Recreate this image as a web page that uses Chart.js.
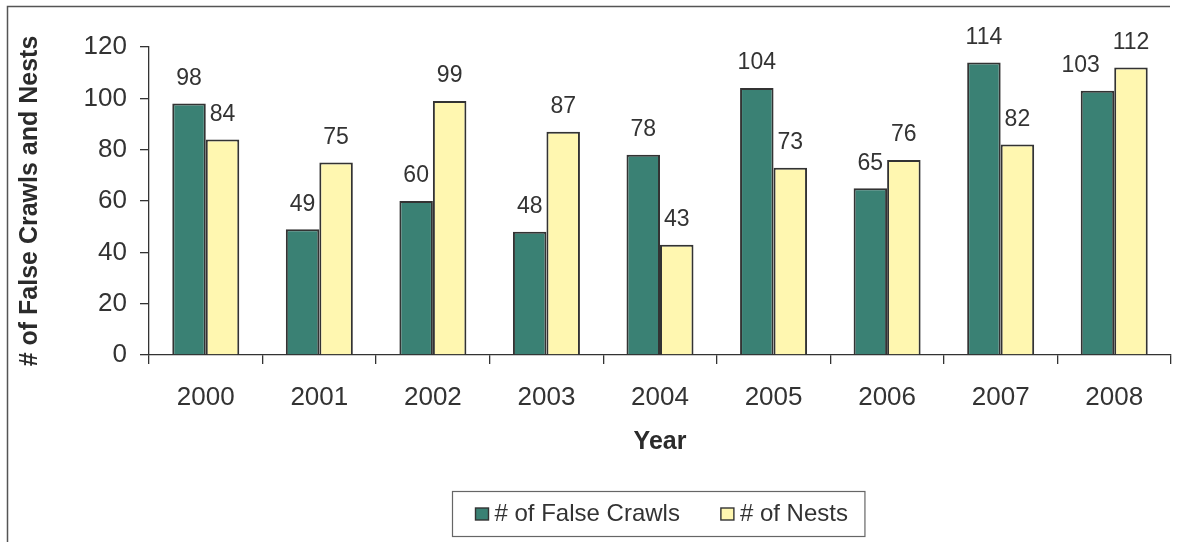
<!DOCTYPE html>
<html>
<head>
<meta charset="utf-8">
<title>False Crawls and Nests</title>
<script src="https://cdn.jsdelivr.net/npm/chart.js@4.4.0/dist/chart.umd.min.js"></script>
<style>
  html, body { margin: 0; padding: 0; background: #fff; }
  #wrap { width: 1179px; height: 542px; }
</style>
</head>
<body>
<div id="wrap"><canvas id="nestChart" width="1179" height="542"></canvas></div>
<script>
const years = ['2000', '2001', '2002', '2003', '2004', '2005', '2006', '2007', '2008'];
const falseCrawls = [98, 49, 60, 48, 78, 104, 65, 114, 103];
const nests = [84, 75, 99, 87, 43, 73, 76, 82, 112];
const yTicks = [0, 20, 40, 60, 80, 100, 120];

const FONT = "'Liberation Sans', Arial, sans-serif";
const INK = '#333';

// thin frame along the top and left edge
const framePlugin = {
    id: 'frame',
    beforeDraw(chart) {
        const ctx = chart.ctx;
        ctx.save();
        ctx.strokeStyle = '#555';
        ctx.lineWidth = 1.5;
        ctx.beginPath();
        ctx.moveTo(1170, 6.5);
        ctx.lineTo(7.5, 6.5);
        ctx.lineTo(7.5, 542);
        ctx.stroke();
        ctx.restore();
    },
};

// numbers above each bar; a label that would run into a taller
// neighbouring bar is nudged sideways by half a bar width
const valueLabels = {
    id: 'valueLabels',
    afterDatasetsDraw(chart) {
        const ctx = chart.ctx;
        ctx.save();
        ctx.font = '23px ' + FONT;
        ctx.fillStyle = INK;
        ctx.textAlign = 'center';
        ctx.textBaseline = 'middle';
        const metas = chart.data.datasets.map((ds, i) => chart.getDatasetMeta(i));
        chart.data.datasets.forEach((ds, i) => {
            metas[i].data.forEach((bar, j) => {
                const text = String(ds.data[j]);
                const w = ctx.measureText(text).width;
                let x = bar.x;
                const y = bar.y - 25;
                metas.forEach((m, k) => {
                    if (k === i) return;
                    const other = m.data[j];
                    const half = other.width / 2;
                    const hitsX = x + w / 2 > other.x - half && x - w / 2 < other.x + half;
                    const hitsY = y + 8 > other.y;
                    if (hitsX && hitsY) {
                        x += other.x > bar.x ? -bar.width / 2 : bar.width / 2;
                    }
                });
                ctx.fillText(text, x, y);
            });
        });
        ctx.restore();
    },
};

// boxed legend under the axis title
const boxLegend = {
    id: 'boxLegend',
    afterDraw(chart) {
        const ctx = chart.ctx;
        const area = chart.chartArea;
        ctx.save();
        ctx.font = '24px ' + FONT;
        const sw = 13, gap = 6, itemGap = 41, padL = 23, padR = 17;
        const items = chart.data.datasets.map((ds) => ({
            label: ds.label,
            fill: ds.backgroundColor,
            w: ctx.measureText(ds.label).width,
        }));
        let total = padL + padR + itemGap * (items.length - 1);
        items.forEach((it) => { total += sw + gap + it.w; });
        const boxLeft = Math.round((area.left + area.right) / 2 - total / 2) - 1.5;
        const boxTop = 491.5, boxH = 45;

        ctx.strokeStyle = '#666';
        ctx.lineWidth = 1.2;
        ctx.strokeRect(boxLeft, boxTop, total, boxH);

        let x = boxLeft + padL;
        const cy = boxTop + boxH / 2;
        items.forEach((it) => {
            ctx.fillStyle = it.fill;
            ctx.fillRect(x, cy - 6, sw, 12);
            ctx.strokeStyle = INK;
            ctx.lineWidth = 1.4;
            ctx.strokeRect(x, cy - 6, sw, 12);
            ctx.fillStyle = INK;
            ctx.textAlign = 'left';
            ctx.textBaseline = 'middle';
            ctx.fillText(it.label, x + sw + gap, cy);
            x += sw + gap + it.w + itemGap;
        });
        ctx.restore();
    },
};

const ctx = document.getElementById('nestChart').getContext('2d');

new Chart(ctx, {
    type: 'bar',
    data: {
        labels: years,
        datasets: [
            {
                label: '# of False Crawls',
                data: falseCrawls,
                backgroundColor: '#3a8174',
                borderColor: INK,
                borderWidth: 2,
            },
            {
                label: '# of Nests',
                data: nests,
                backgroundColor: '#fff7b0',
                borderColor: INK,
                borderWidth: 2,
            },
        ],
    },
    options: {
        responsive: false,
        devicePixelRatio: 1,
        animation: false,
        layout: { padding: { left: 8, right: 8, top: 47, bottom: 85 } },
        datasets: {
            bar: { categoryPercentage: 0.59, barPercentage: 1 },
        },
        plugins: {
            legend: { display: false },
            tooltip: { enabled: false },
        },
        scales: {
            x: {
                grid: { display: true, drawOnChartArea: false, tickLength: 9, color: INK, lineWidth: 1.3 },
                border: { color: INK, width: 1.3 },
                ticks: { color: INK, font: { family: FONT, size: 26 }, padding: 18, maxRotation: 0 },
                title: {
                    display: true,
                    text: 'Year',
                    color: '#2b2b2b',
                    font: { family: FONT, size: 25, weight: 'bold' },
                    padding: { top: 0, bottom: 0 },
                },
                afterFit(scale) { scale.height = 102; },
            },
            y: {
                min: 0,
                max: 120,
                afterBuildTicks(scale) { scale.ticks = yTicks.map((v) => ({ value: v })); },
                grid: { display: true, drawOnChartArea: false, tickLength: 9, color: INK, lineWidth: 1.3 },
                border: { color: INK, width: 1.3 },
                ticks: { color: INK, font: { family: FONT, size: 26 }, padding: 13 },
                title: {
                    display: true,
                    text: '# of False Crawls and Nests',
                    color: '#2b2b2b',
                    font: { family: FONT, size: 25, weight: 'bold' },
                    padding: { top: 7, bottom: 0 },
                },
                afterFit(scale) { scale.width = 141; },
            },
        },
    },
    plugins: [framePlugin, valueLabels, boxLegend],
});
</script>
</body>
</html>
